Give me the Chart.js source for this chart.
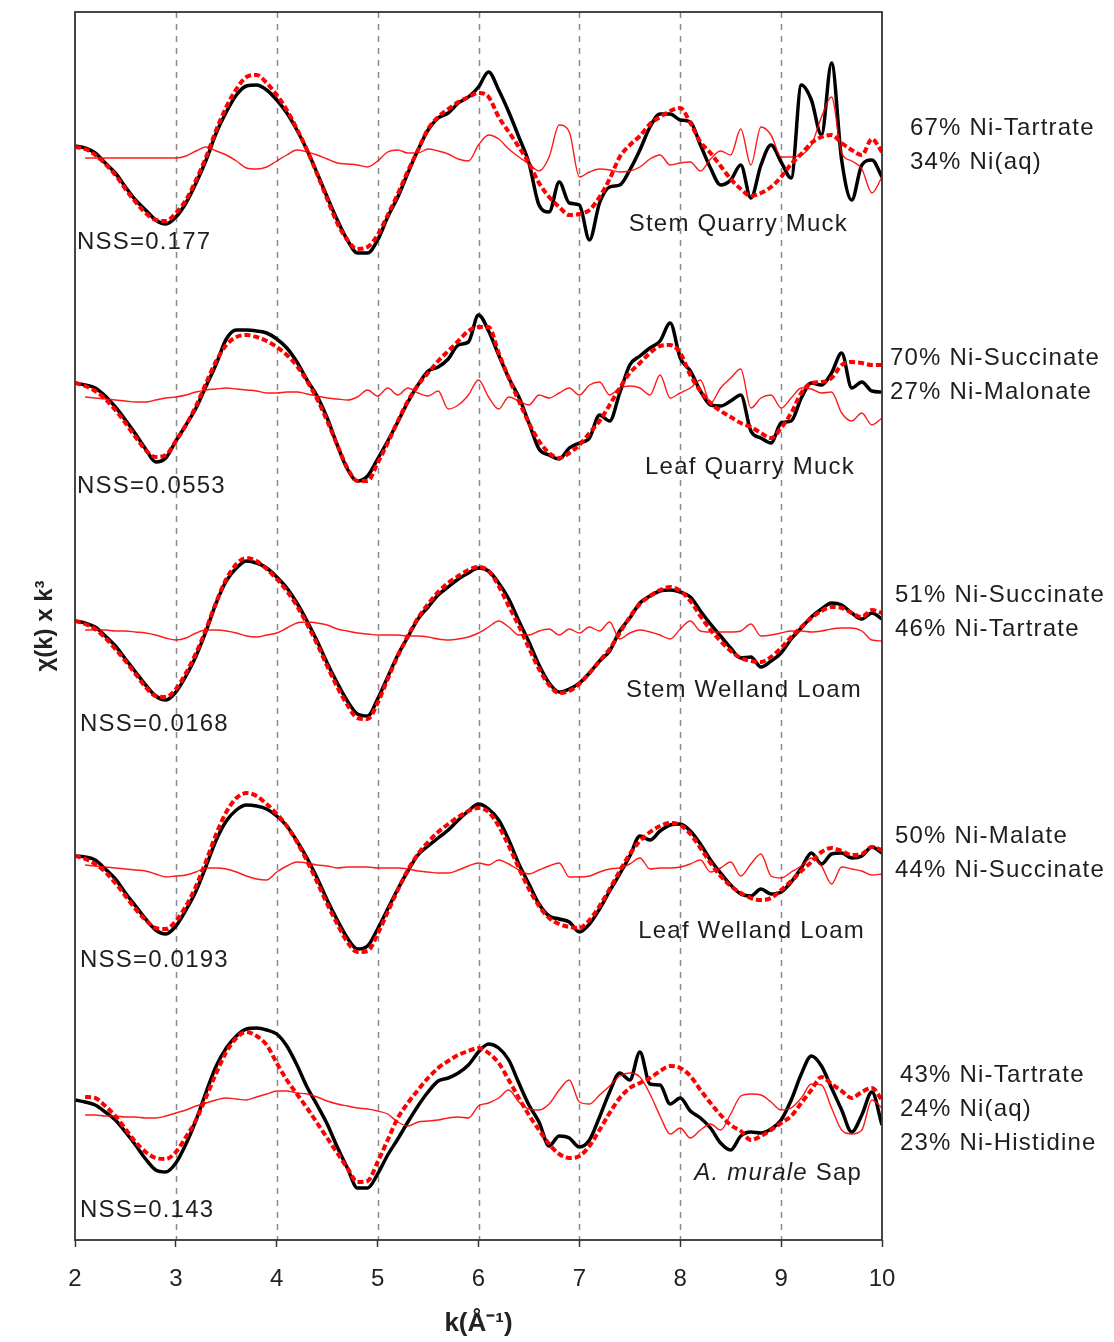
<!DOCTYPE html>
<html>
<head>
<meta charset="utf-8">
<script src="https://cdn.jsdelivr.net/npm/chart.js@4.4.0/dist/chart.umd.min.js"></script>
<style>
body { margin: 0; background: #fff; }
#wrap { width: 1114px; height: 1342px; }
</style>
</head>
<body>
<div id="wrap"><canvas id="g_exafs" width="1114" height="1342"></canvas></div>
<script>
// k grid (1/Angstrom)
var kGrid = [
  2.0, 2.1, 2.2, 2.3, 2.4, 2.5, 2.6, 2.7, 2.8, 2.9,
  3.0, 3.1, 3.2, 3.3, 3.4, 3.5, 3.6, 3.7, 3.8, 3.9,
  4.0, 4.1, 4.2, 4.3, 4.4, 4.5, 4.6, 4.7, 4.8, 4.9,
  5.0, 5.1, 5.2, 5.3, 5.4, 5.5, 5.6, 5.7, 5.8, 5.9,
  6.0, 6.1, 6.2, 6.3, 6.4, 6.5, 6.6, 6.7, 6.8, 6.9,
  7.0, 7.1, 7.2, 7.3, 7.4, 7.5, 7.6, 7.7, 7.8, 7.9,
  8.0, 8.1, 8.2, 8.3, 8.4, 8.5, 8.6, 8.7, 8.8, 8.9,
  9.0, 9.1, 9.2, 9.3, 9.4, 9.5, 9.6, 9.7, 9.8, 9.9,
  10.0
];
var xTicks = [2, 3, 4, 5, 6, 7, 8, 9, 10];

var samples = ['Stem Quarry Muck', 'Leaf Quarry Muck', 'Stem Welland Loam', 'Leaf Welland Loam', 'A. murale Sap'];
var nssLabels = ['NSS=0.177', 'NSS=0.0553', 'NSS=0.0168', 'NSS=0.0193', 'NSS=0.143'];
var mixLabels = [
  ['67% Ni-Tartrate', '34% Ni(aq)'],
  ['70% Ni-Succinate', '27% Ni-Malonate'],
  ['51% Ni-Succinate', '46% Ni-Tartrate'],
  ['50% Ni-Malate', '44% Ni-Succinate'],
  ['43% Ni-Tartrate', '24% Ni(aq)', '23% Ni-Histidine']
];
// vertical offset of each stacked spectrum
var offsets = [1093, 857, 619, 384, 140];

// chi(k)*k^3, arbitrary units: data / LCF fit / residual
var sqmData = [
  1, -1, -6, -16, -26, -40, -53, -63, -73, -77,
  -70, -56, -36, -13, 14, 35, 52, 61, 62, 57,
  47, 34, 17, -3, -26, -50, -73, -93, -106, -106,
  -93, -70, -50, -26, -3, 17, 29, 34, 44, 50,
  60, 75, 57, 35, 10, -16, -58, -65, -35, -56,
  -58, -93, -56, -40, -38, -23, -3, 20, 33, 33,
  27, 25, 2, -21, -38, -33, -18, -51, -18, 2,
  -15, -31, 62, 47, 12, 84, -13, -53, -18, -13,
  -30
];
var sqmFit = [
  0, -2, -8, -17, -28, -42, -55, -66, -73, -74,
  -66, -53, -33, -10, 17, 40, 58, 70, 72, 64,
  52, 37, 18, -3, -27, -52, -76, -93, -102, -100,
  -88, -68, -47, -24, -3, 18, 30, 38, 45, 50,
  54, 50, 30, 15, 0, -16, -36, -50, -60, -68,
  -67, -63, -50, -32, -10, 2, 11, 23, 30, 36,
  39, 24, 5, -6, -19, -32, -42, -49, -46, -40,
  -30, -17, -7, 4, 10, 12, 4, -3, -8, 8,
  -5
];
var sqmRes = [
  null, -11, -11, -11, -11, -11, -11, -11, -11, -11,
  -11, -9, -4, 0, -4, -8, -14, -21, -22, -20,
  -14, -8, -3, -5, -8, -12, -16, -17, -18, -20,
  -14, -5, -3, -6, -6, -2, -4, -7, -12, -14,
  2, 12, 8, -2, -10, -17, -24, -10, 22, 15,
  -30, -25, -22, -23, -25, -24, -20, -12, -8, -18,
  -16, -15, -24, -12, -4, -8, 18, -18, 20, 12,
  -10, -10, -8, 2, 30, 50, -6, -14, -22, -46,
  -30
];

var lqmData = [
  0, -2, -5, -13, -24, -37, -51, -66, -79, -75,
  -58, -42, -25, -3, 19, 44, 53, 53, 52, 50,
  44, 35, 21, 3, -13, -35, -62, -86, -98, -93,
  -76, -58, -39, -19, -2, 12, 16, 24, 38, 41,
  68, 52, 28, 5, -14, -40, -66, -72, -76, -65,
  -60, -55, -32, -38, -10, 18, 27, 35, 42, 60,
  25, 12, -8, -22, -23, -18, -12, -48, -55, -60,
  -40, -38, -15, 0, -2, 10, 30, -5, 1, -8,
  -9
];
var lqmFit = [
  0, -3, -8, -16, -27, -40, -54, -67, -74, -72,
  -58, -42, -23, 0, 22, 38, 46, 48, 46, 42,
  36, 28, 17, 2, -16, -38, -62, -85, -98, -98,
  -80, -60, -38, -18, -2, 10, 22, 32, 42, 52,
  56, 56, 30, 5, -18, -40, -58, -70, -75, -70,
  -62, -50, -38, -22, -5, 10, 20, 30, 37, 38,
  30, 8, -8, -20, -28, -34, -40, -44, -50, -55,
  -45, -30, -10, 0, 1, 5, 18, 21, 20, 18,
  18
];
var lqmRes = [
  null, -14, -15, -16, -17, -18, -19, -19, -17, -15,
  -14, -12, -9, -7, -6, -5, -6, -7, -8, -10,
  -10, -9, -9, -11, -13, -15, -16, -17, -14, -7,
  -13, -5, -12, -5, -10, -13, -8, -26, -22, -12,
  3, -14, -26, -14, -18, -22, -12, -15, -10, -5,
  -12, -2, 1, -12, -5, -3, -5, -12, 8, -15,
  -10, -5, 3, -20, -5, 5, 14, -25, -15, -12,
  -25, -15, -5, -6, -10, -9, -30, -38, -30, -42,
  -35
];

var swlData = [
  0, -2, -6, -15, -25, -38, -51, -64, -75, -79,
  -71, -55, -35, -10, 18, 40, 53, 60, 58, 53,
  44, 33, 18, 0, -20, -42, -62, -80, -93, -95,
  -78, -56, -34, -16, 2, 14, 26, 34, 42, 48,
  53, 50, 38, 22, 0, -21, -44, -62, -71, -68,
  -62, -52, -40, -30, -10, 3, 18, 25, 30, 31,
  29, 24, 10, -3, -15, -27, -37, -36, -46, -40,
  -32, -18, -7, 4, 12, 18, 16, 8, 2, 8,
  2
];
var swlFit = [
  0, -3, -8, -17, -28, -40, -53, -66, -75, -76,
  -68, -52, -32, -8, 19, 42, 57, 63, 60, 52,
  42, 30, 15, -3, -23, -45, -66, -84, -97, -98,
  -82, -58, -35, -15, 3, 17, 29, 38, 45, 51,
  54, 50, 35, 15, -5, -27, -48, -64, -72, -70,
  -63, -52, -40, -28, -12, 4, 17, 25, 31, 34,
  30, 20, 5, -9, -20, -30, -37, -40, -41, -36,
  -27, -16, -6, 3, 10, 14, 13, 8, 4, 11,
  8
];
var swlRes = [
  null, -9, -9, -9, -10, -10, -11, -12, -14, -17,
  -19, -17, -12, -9, -9, -10, -12, -15, -16, -14,
  -12, -7, -2, -1, -2, -4, -8, -10, -12, -13,
  -14, -14, -14, -15, -15, -16, -18, -19, -18, -16,
  -12, -6, 0, -6, -14, -14, -10, -8, -14, -8,
  -12, -6, -10, -1, -18, -12, -9, -11, -14, -18,
  -8, 0, -10, -11, -11, -11, -10, -3, -15, -14,
  -12, -10, -10, -11, -10, -8, -7, -7, -10, -19,
  -20
];

var lwlData = [
  0, -1, -4, -13, -23, -37, -50, -63, -74, -78,
  -70, -54, -35, -10, 16, 35, 46, 51, 50, 47,
  40, 30, 15, -2, -22, -44, -64, -82, -93, -90,
  -73, -53, -33, -15, 1, 10, 18, 26, 36, 45,
  52, 47, 36, 16, -8, -28, -48, -60, -63, -66,
  -76, -68, -53, -35, -18, 0, 20, 16, 25, 31,
  32, 25, 12, -4, -17, -29, -38, -40, -33, -38,
  -36, -26, -12, 3, -8, 2, 3, -2, 0, 9,
  3
];
var lwlFit = [
  0, -3, -8, -16, -27, -40, -53, -64, -72, -73,
  -65, -50, -30, -5, 22, 44, 58, 63, 60, 52,
  42, 30, 14, -5, -26, -48, -68, -86, -96, -95,
  -78, -56, -34, -14, 2, 14, 24, 32, 39, 45,
  48, 44, 30, 10, -12, -33, -50, -62, -68, -71,
  -72, -64, -50, -33, -15, 2, 15, 24, 30, 33,
  31, 22, 8, -7, -20, -30, -37, -42, -44, -42,
  -34, -25, -15, -6, 4, 8, 5, 1, 2, 9,
  6
];
var lwlRes = [
  null, -9, -10, -11, -12, -13, -14, -15, -18, -21,
  -20, -19, -16, -12, -12, -13, -16, -20, -23, -24,
  -16, -10, -6, -7, -9, -10, -12, -11, -11, -11,
  -12, -12, -12, -13, -15, -16, -17, -17, -14, -10,
  -7, -9, -4, -8, -14, -18, -14, -10, -7, -21,
  -21, -20, -16, -13, -12, -8, -2, -13, -12, -12,
  -11, -8, -4, -16, -12, -6, -20, -8, 2, -20,
  -22, -16, -10, -2, -10, -28, -11, -13, -15, -19,
  -18
];

var sapData = [
  0, -2, -5, -12, -20, -32, -45, -59, -70, -72,
  -63, -44, -20, 8, 34, 52, 64, 71, 72, 70,
  66, 54, 35, 13, -5, -24, -47, -68, -88, -88,
  -74, -55, -39, -22, -6, 8, 19, 22, 27, 35,
  48, 56, 52, 40, 17, -5, -22, -46, -36, -38,
  -47, -40, -17, 8, 27, 20, 48, 16, 15, -4,
  2, -11, -18, -28, -43, -50, -36, -32, -33, -29,
  -20, 0, 26, 44, 34, 12, -10, -32, -15, 8,
  -25
];
var sapFit = [
  null, 3, 2, -6, -16, -29, -42, -52, -58, -59,
  -52, -37, -20, 3, 27, 48, 62, 68, 64, 55,
  37, 20, 6, -8, -23, -38, -53, -68, -82, -81,
  -62, -40, -18, -3, 10, 22, 32, 39, 45, 49,
  52, 47, 37, 20, 2, -15, -30, -44, -54, -58,
  -56, -46, -30, -13, 2, 12, 17, 22, 29, 34,
  32, 24, 10, -3, -15, -25, -31, -40, -36, -30,
  -23, -16, -3, 10, 23, 16, 9, 2, 8, 12,
  0
];
var sapRes = [
  null, -15, -15, -16, -16, -17, -17, -18, -18, -16,
  -13, -10, -6, -3, 0, 2, 1, 0, 3, 6,
  9, 9, 7, 6, 3, -1, -4, -6, -8, -9,
  -11, -14, -22, -26, -22, -21, -20, -18, -17, -18,
  -6, -3, 2, 10, -2, -9, -10, -4, 10, 20,
  -2, -4, 5, 14, 24, 27, 23, 6, -16, -34,
  -28, -38, -30, -24, -30, -14, 4, 6, 5, -2,
  -10, -8, 2, 16, 15, -8, -30, -34, -30, 0,
  -8
];

var spectra = [
  [sqmData, sqmFit, sqmRes],
  [lqmData, lqmFit, lqmRes],
  [swlData, swlFit, swlRes],
  [lwlData, lwlFit, lwlRes],
  [sapData, sapFit, sapRes]
];

var FONT = '"Liberation Sans", Arial, sans-serif';

function serie(values, off) {
  var pts = [];
  for (let i = 0; i < kGrid.length; i++) {
    pts.push({x: kGrid[i], y: values[i] === null ? null : off + values[i]});
  }
  return pts;
}

function build_datasets() {
  var ds = [];
  for (let s = 0; s < spectra.length; s++) {
    ds.push({ data: serie(spectra[s][0], offsets[s]), borderColor: '#000', borderWidth: 3.5, order: 3 });
    ds.push({ data: serie(spectra[s][1], offsets[s]), borderColor: '#ff0000', borderWidth: 4, borderDash: [6, 3], order: 2 });
    ds.push({ data: serie(spectra[s][2], offsets[s]), borderColor: 'rgba(255,0,0,0.9)', borderWidth: 1.4, order: 1 });
  }
  return ds;
}

// label placement, px relative to each spectrum baseline
var nameRight = [-34, -27, -20, -17, -20];
var nameDy = [77, 84, 69, 75, 73];
var nssLeft = [2, 2, 5, 5, 5];
var nssDy = [95, 103, 103, 104, 110];
var mixLeft = [28, 8, 13, 13, 18];
var mixDy = [-19, -25, -26, -20, -25];

var decor = {
  id: 'decor',
  beforeDatasetsDraw: function (chart) {
    var ctx = chart.ctx, a = chart.chartArea, sx = chart.scales.x;
    ctx.save();
    ctx.strokeStyle = '#8a8a8a';
    ctx.lineWidth = 1.5;
    ctx.setLineDash([6, 6]);
    xTicks.forEach(function (t) {
      if (t > sx.min && t < sx.max) {
        var px = Math.round(sx.getPixelForValue(t)) + 0.5;
        ctx.beginPath();
        ctx.moveTo(px, a.top);
        ctx.lineTo(px, a.bottom);
        ctx.stroke();
      }
    });
    ctx.restore();
  },
  afterDraw: function (chart) {
    var ctx = chart.ctx, a = chart.chartArea, sy = chart.scales.y;
    ctx.save();
    ctx.strokeStyle = '#333';
    ctx.lineWidth = 1.8;
    ctx.strokeRect(a.left, a.top, a.right - a.left, a.bottom - a.top);

    ctx.fillStyle = '#1e1e1e';
    ctx.textBaseline = 'middle';
    ctx.letterSpacing = '1.2px';
    for (let s = 0; s < samples.length; s++) {
      var base = sy.getPixelForValue(offsets[s]);
      ctx.font = '24px ' + FONT;
      ctx.textAlign = 'left';
      ctx.fillText(nssLabels[s], a.left + nssLeft[s], base + nssDy[s]);
      for (let m = 0; m < mixLabels[s].length; m++) {
        ctx.fillText(mixLabels[s][m], a.right + mixLeft[s], base + mixDy[s] + m * 34);
      }
      ctx.textAlign = 'right';
      var nx = a.right + nameRight[s], ny = base + nameDy[s];
      if (samples[s].indexOf('A. murale') === 0) {
        var rest = samples[s].substring(9);
        ctx.fillText(rest, nx, ny);
        var w = ctx.measureText(rest).width;
        ctx.font = 'italic 24px ' + FONT;
        ctx.fillText('A. murale', nx - w, ny);
      } else {
        ctx.fillText(samples[s], nx, ny);
      }
    }
    ctx.restore();
  }
};

var ctx = document.getElementById('g_exafs').getContext('2d');
var myChart = new Chart(ctx, {
  type: 'line',
  data: { datasets: build_datasets() },
  plugins: [decor],
  options: {
    responsive: false,
    animation: false,
    layout: { padding: { top: 12, right: 232, left: 0, bottom: 0 } },
    elements: {
      point: { radius: 0 },
      line: { cubicInterpolationMode: 'monotone', fill: false }
    },
    plugins: { legend: { display: false }, tooltip: { enabled: false } },
    scales: {
      x: {
        type: 'linear',
        min: 2,
        max: 10,
        afterFit: function (s) { s.height = 102; },
        afterBuildTicks: function (s) { s.ticks = xTicks.map(function (v) { return {value: v}; }); },
        grid: { drawOnChartArea: false, drawTicks: true, tickLength: 7, tickColor: '#333', tickWidth: 1.5 },
        border: { display: false },
        ticks: { color: '#222', padding: 18, font: { family: FONT, size: 24 } },
        title: {
          display: true,
          text: 'k(Å⁻¹)',
          color: '#222',
          padding: { top: 0, bottom: 3 },
          font: { family: FONT, size: 26, weight: 'bold' }
        }
      },
      y: {
        type: 'linear',
        min: 0,
        max: 1228,
        afterFit: function (s) { s.width = 75; },
        grid: { display: false },
        border: { display: false },
        ticks: { display: false },
        title: {
          display: true,
          text: 'χ(k) x k³',
          color: '#222',
          padding: { top: 31, bottom: 0 },
          font: { family: FONT, size: 24, weight: 'bold' }
        }
      }
    }
  }
});
</script>
</body>
</html>
